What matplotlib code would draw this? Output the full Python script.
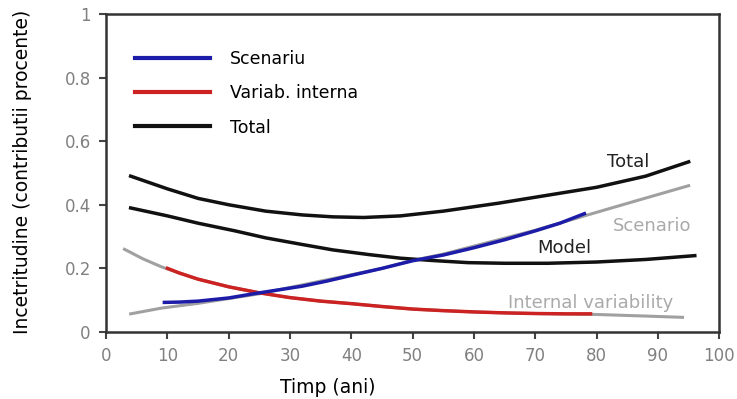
import matplotlib
matplotlib.use("Agg")
import matplotlib.pyplot as plt

# curves (years, fraction)
total_x = [4, 10, 15, 20, 26, 32, 37, 42, 48, 55, 64, 72, 80, 88, 95]
total_y = [0.49, 0.45, 0.42, 0.40, 0.38, 0.368, 0.362, 0.36, 0.365, 0.38, 0.405, 0.43, 0.455, 0.49, 0.535]

model_x = [4, 10, 15, 21, 26, 32, 37, 43, 48, 53, 59, 65, 72, 80, 88, 96]
model_y = [0.39, 0.365, 0.342, 0.318, 0.296, 0.275, 0.258, 0.243, 0.232, 0.225, 0.218, 0.216, 0.216, 0.22, 0.228, 0.24]

scen_gray_x = [4, 9, 15, 20, 25, 30, 35, 40, 45, 50, 55, 60, 65, 70, 78, 86, 95]
scen_gray_y = [0.057, 0.075, 0.09, 0.105, 0.12, 0.14, 0.16, 0.18, 0.2, 0.225, 0.245, 0.27, 0.295, 0.32, 0.365, 0.41, 0.46]

intvar_gray_x = [3, 6, 9, 12, 15, 20, 25, 30, 35, 40, 45, 50, 55, 60, 65, 70, 80, 88, 94]
intvar_gray_y = [0.26, 0.23, 0.205, 0.185, 0.166, 0.142, 0.123, 0.108, 0.097, 0.089, 0.08, 0.072, 0.067, 0.063, 0.06, 0.058, 0.055, 0.05, 0.046]

scenariu_x = [9.5, 12, 15, 20, 24, 28, 32, 36, 40, 45, 50, 55, 60, 65, 70, 74, 78]
scenariu_y = [0.093, 0.094, 0.097, 0.107, 0.12, 0.132, 0.144, 0.16, 0.178, 0.2, 0.224, 0.242, 0.265, 0.29, 0.318, 0.342, 0.372]

variab_x = [10, 12, 15, 20, 25, 30, 35, 40, 45, 50, 55, 60, 65, 70, 75, 79]
variab_y = [0.2, 0.185, 0.166, 0.142, 0.123, 0.108, 0.097, 0.089, 0.08, 0.072, 0.067, 0.063, 0.06, 0.058, 0.057, 0.057]

x_ticks = [0, 10, 20, 30, 40, 50, 60, 70, 80, 90, 100]
y_ticks = [0, 0.2, 0.4, 0.6, 0.8, 1]
y_tick_labels = ["0", "0.2", "0.4", "0.6", "0.8", "1"]

fig = plt.figure(figsize=(7.37, 3.99), dpi=100)
ax = fig.add_axes([0.144, 0.168, 0.832, 0.797])

gray = "#a0a0a0"
ax.plot(scen_gray_x, scen_gray_y, color=gray, lw=2.2)
ax.plot(intvar_gray_x, intvar_gray_y, color=gray, lw=2.2)
ax.plot(total_x, total_y, color="#111111", lw=2.5)
ax.plot(model_x, model_y, color="#111111", lw=2.5)
ax.plot(variab_x, variab_y, color="#cc2222", lw=2.5)
ax.plot(scenariu_x, scenariu_y, color="#1c1ca8", lw=2.5)

# legend handles
h1, = ax.plot([], [], color="#1c1ca8", lw=3, label="Scenariu")
h2, = ax.plot([], [], color="#cc2222", lw=3, label="Variab. interna")
h3, = ax.plot([], [], color="#111111", lw=3, label="Total")
ax.legend(handles=[h1, h2, h3], loc="upper left", bbox_to_anchor=(0.047, 0.888),
          frameon=False, fontsize=12.5, handlelength=4.3, handletextpad=1.15,
          labelspacing=0.95, borderpad=0, borderaxespad=0)

# labels inside the plot
ax.text(85.2, 0.535, "Total", fontsize=13, color="#222222", va="center", ha="center")
ax.text(89.1, 0.333, "Scenario", fontsize=13, color="#aaaaaa", va="center", ha="center")
ax.text(74.7, 0.264, "Model", fontsize=13, color="#222222", va="center", ha="center")
ax.text(79, 0.09, "Internal variability", fontsize=13, color="#aaaaaa", va="center", ha="center")

ax.set_xlim(0, 100)
ax.set_ylim(0, 1)
ax.set_xticks(x_ticks)
ax.set_yticks(y_ticks)
ax.set_yticklabels(y_tick_labels)
ax.tick_params(direction="out", length=5, width=1.5, colors="#444444",
               labelcolor="#808080", labelsize=12, pad=6)
for s in ax.spines.values():
    s.set_linewidth(1.8)
    s.set_color("#333333")

ax.set_xlabel("Timp (ani)", fontsize=13.5)
ax.xaxis.set_label_coords(0.362, -0.145)
ax.set_ylabel("Incetritudine (contributii procente)", fontsize=13.5)
ax.yaxis.set_label_coords(-0.121, 0.503)

fig.savefig("out.png", dpi=100)
